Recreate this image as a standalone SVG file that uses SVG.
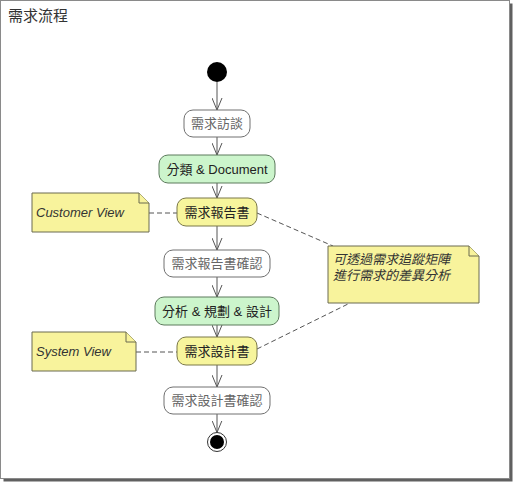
<svg xmlns="http://www.w3.org/2000/svg" width="515" height="484" viewBox="0 0 515 484">
<style>
  text { font-family: "Liberation Sans", "Noto Sans CJK TC", sans-serif; font-size: 13px; }
  .lbl { text-anchor: middle; dominant-baseline: central; }
  .plain rect { fill: #ffffff; stroke: #707070; stroke-width: 1; }
  .plain text { fill: #666666; }
  .green rect { fill: #ccf5cc; stroke: #5c7a5c; stroke-width: 1; }
  .green text { fill: #222222; }
  .yellow rect { fill: #f7f59c; stroke: #7a7848; stroke-width: 1; }
  .yellow text { fill: #222222; }
  .note path { fill: #f8f39c; stroke: #6a6a50; stroke-width: 1; }
  .note text { fill: #333333; font-style: italic; }
  .flow { stroke: #555555; stroke-width: 1; fill: none; marker-end: url(#arrow); }
  .dash { stroke: #555555; stroke-width: 1; fill: none; stroke-dasharray: 5 3; }
</style>
<defs>
  <marker id="arrow" markerUnits="userSpaceOnUse" markerWidth="12" markerHeight="11" viewBox="0 0 12 11" refX="12" refY="5.5" orient="auto">
    <path d="M0,0.5 L12,5.5 L0,10.5" fill="none" stroke="#555555" stroke-width="1"/>
  </marker>
</defs>

<!-- frame -->
<rect x="3.5" y="3.5" width="509" height="478" fill="#606060"/>
<rect x="0.5" y="0.5" width="509" height="478" fill="#ffffff" stroke="#8a8a8a" stroke-width="1"/>
<text x="8" y="21" style="font-size:15px" fill="#333333">需求流程</text>

<g id="connectors">
  <line class="flow" x1="217" y1="82" x2="217" y2="110"/>
  <line class="flow" x1="217" y1="137" x2="217" y2="155"/>
  <line class="flow" x1="217" y1="183" x2="217" y2="198"/>
  <line class="flow" x1="217" y1="226" x2="217" y2="250"/>
  <line class="flow" x1="217" y1="277" x2="217" y2="297"/>
  <line class="flow" x1="217" y1="325" x2="217" y2="337"/>
  <line class="flow" x1="217" y1="365" x2="217" y2="387"/>
  <line class="flow" x1="217" y1="414" x2="217" y2="432.5"/>
  <line class="dash" x1="149" y1="213" x2="177" y2="213"/>
  <line class="dash" x1="136" y1="352" x2="177" y2="352"/>
  <line class="dash" x1="257" y1="213" x2="333" y2="246"/>
  <line class="dash" x1="257" y1="349" x2="350" y2="303"/>
</g>

<g id="start">
  <circle cx="217" cy="72" r="10" fill="#000000"/>
</g>

<g id="n1" class="plain">
  <rect x="184" y="110" width="66" height="27" rx="9"/>
  <text class="lbl" x="217" y="123.5">需求訪談</text>
</g>
<g id="n2" class="green">
  <rect x="159" y="155" width="116" height="28" rx="9"/>
  <text class="lbl" x="217" y="169">分類 &amp; Document</text>
</g>
<g id="n3" class="yellow">
  <rect x="177" y="198" width="80" height="28" rx="9"/>
  <text class="lbl" x="217" y="212">需求報告書</text>
</g>
<g id="n4" class="plain">
  <rect x="164" y="250" width="106" height="27" rx="9"/>
  <text class="lbl" x="217" y="263.5">需求報告書確認</text>
</g>
<g id="n5" class="green">
  <rect x="155" y="297" width="124" height="28" rx="9"/>
  <text class="lbl" x="217" y="311">分析 &amp; 規劃 &amp; 設計</text>
</g>
<g id="n6" class="yellow">
  <rect x="177" y="337" width="80" height="28" rx="9"/>
  <text class="lbl" x="217" y="351">需求設計書</text>
</g>
<g id="n7" class="plain">
  <rect x="164" y="387" width="106" height="27" rx="9"/>
  <text class="lbl" x="217" y="400.5">需求設計書確認</text>
</g>

<g id="end">
  <circle cx="217" cy="442" r="9.5" fill="#ffffff" stroke="#333333" stroke-width="1"/>
  <circle cx="217" cy="442" r="7" fill="#000000"/>
</g>

<g id="note-customer" class="note">
  <path d="M32,193 H139 L149,203 V232 H32 Z"/>
  <path d="M139,193 V203 H149" fill="none"/>
  <text x="36" y="217">Customer View</text>
</g>
<g id="note-system" class="note">
  <path d="M32,332 H126 L136,342 V371 H32 Z"/>
  <path d="M126,332 V342 H136" fill="none"/>
  <text x="36" y="356">System View</text>
</g>
<g id="note-trace" class="note">
  <path d="M328,246 H469 L479,256 V303 H328 Z"/>
  <path d="M469,246 V256 H479" fill="none"/>
  <text x="333" y="264">可透過需求追蹤矩陣</text>
  <text x="333" y="280">進行需求的差異分析</text>
</g>
</svg>
